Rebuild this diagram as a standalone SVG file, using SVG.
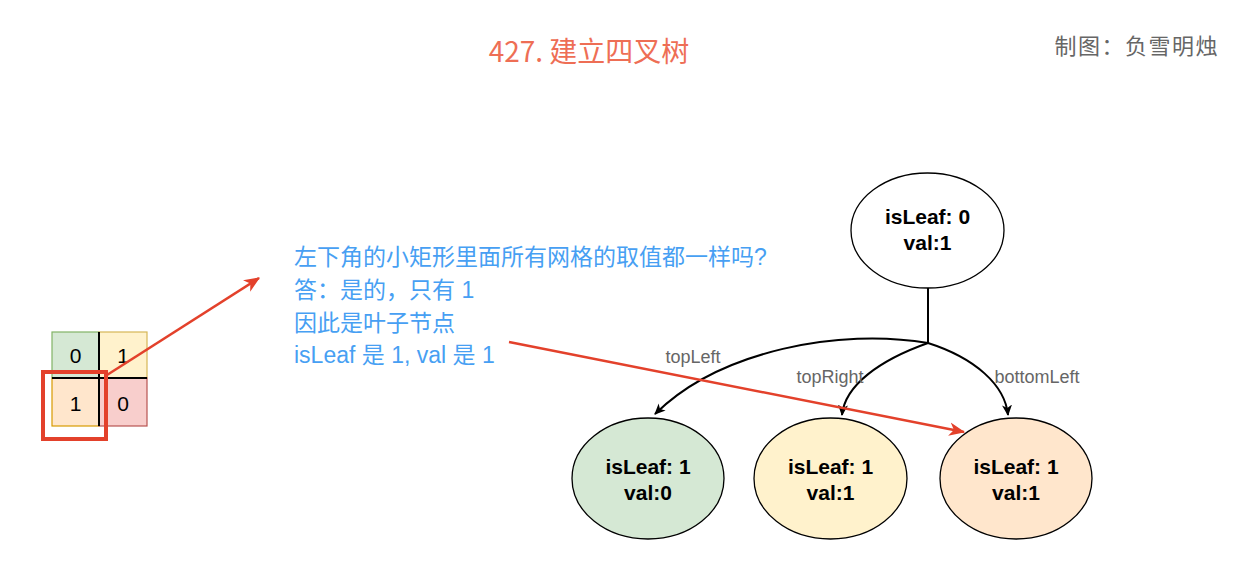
<svg xmlns="http://www.w3.org/2000/svg" width="1246" height="586" viewBox="0 0 1246 586">
<style>
.node text{font-family:"Liberation Sans",Arial,sans-serif;font-weight:bold;font-size:21px;fill:#000;text-anchor:middle}
.ell{stroke:#000;stroke-width:1.3}
.cell{stroke-width:1.2}
.celltxt{font-family:"Liberation Sans",Arial,sans-serif;font-size:21px;fill:#000;text-anchor:middle}
.lbl{font-family:"Liberation Sans",Arial,sans-serif;font-size:18px;fill:#666;text-anchor:middle}
.blue{font-family:"Liberation Sans","Noto Sans CJK SC",sans-serif;font-size:23px;fill:#479ff3}
.edge{fill:none;stroke:#000;stroke-width:2}
.red{fill:none;stroke:#e3412b;stroke-width:2.5}
</style>
<defs>
<marker id="ab" markerWidth="12" markerHeight="12" refX="10" refY="5" orient="auto" markerUnits="userSpaceOnUse" viewBox="0 0 12 10">
<path d="M0,0 L11,5 L0,10 L3,5 Z" fill="#000"/>
</marker>
<marker id="ar" markerWidth="16" markerHeight="14" refX="13" refY="6" orient="auto" markerUnits="userSpaceOnUse" viewBox="0 0 14 12">
<path d="M0,0 L14,6 L0,12 L4,6 Z" fill="#e3412b"/>
</marker>
</defs>
<rect width="1246" height="586" fill="#fff"/>
<text x="589" y="62" font-family="'Noto Sans CJK SC',sans-serif" font-size="28" fill="#ee6e55" text-anchor="middle">427. 建立四叉树</text>
<text x="1219" y="54" font-family="'Noto Sans CJK SC',sans-serif" font-size="22" fill="#666" text-anchor="end" letter-spacing="1.5">制图：负雪明烛</text>
<g id="grid">
<rect class="cell" x="52" y="332" width="47" height="46" fill="#d5e8d4" stroke="#82b366"/>
<rect class="cell" x="99" y="332" width="48" height="46" fill="#fff2cc" stroke="#d6b656"/>
<rect class="cell" x="52" y="378" width="47" height="48" fill="#ffe6cc" stroke="#d79b00"/>
<rect class="cell" x="99" y="378" width="48" height="48" fill="#f8cecc" stroke="#b85450"/>
<line x1="99" y1="332" x2="99" y2="426" stroke="#000" stroke-width="2"/>
<line x1="52" y1="378" x2="147" y2="378" stroke="#000" stroke-width="2"/>
<text class="celltxt" x="75.5" y="363">0</text>
<text class="celltxt" x="123" y="363">1</text>
<text class="celltxt" x="75.5" y="411">1</text>
<text class="celltxt" x="123" y="411">0</text>
<rect x="43" y="372" width="63" height="67" fill="none" stroke="#e3412b" stroke-width="4"/>
</g>
<g id="note">
<text class="blue" x="294" y="265">左下角的小矩形里面所有网格的取值都一样吗?</text>
<text class="blue" x="294" y="298">答：是的，只有 1</text>
<text class="blue" x="294" y="331">因此是叶子节点</text>
<text class="blue" x="294" y="363">isLeaf 是 1, val 是 1</text>
</g>
<g id="connectors">
<line class="edge" x1="928" y1="287" x2="928" y2="343"/>
<path class="edge" d="M928,343 C840,328 720,350 655,414" marker-end="url(#ab)"/>
<path class="edge" d="M928,343 C880,360 845,385 842,415" marker-end="url(#ab)"/>
<path class="edge" d="M928,343 C975,358 1005,385 1008,415" marker-end="url(#ab)"/>
<text class="lbl" x="693" y="363">topLeft</text>
<text class="lbl" x="830" y="383">topRight</text>
<text class="lbl" x="1037" y="383">bottomLeft</text>
<line class="red" x1="107" y1="375" x2="259" y2="278" marker-end="url(#ar)"/>
<line class="red" x1="509" y1="342" x2="964" y2="432" marker-end="url(#ar)"/>
</g>
<g id="root" class="node">
<ellipse class="ell" cx="927.5" cy="230.5" rx="76.5" ry="57.5" fill="#fff"/>
<text x="927.5" y="224">isLeaf: 0</text>
<text x="927.5" y="250">val:1</text>
</g>
<g id="topLeft" class="node">
<ellipse class="ell" cx="648" cy="478.5" rx="76" ry="60.5" fill="#d5e8d4"/>
<text x="648" y="474">isLeaf: 1</text>
<text x="648" y="500">val:0</text>
</g>
<g id="topRight" class="node">
<ellipse class="ell" cx="830.5" cy="478.5" rx="76.5" ry="60.5" fill="#fff2cc"/>
<text x="830.5" y="474">isLeaf: 1</text>
<text x="830.5" y="500">val:1</text>
</g>
<g id="bottomLeft" class="node">
<ellipse class="ell" cx="1016" cy="478.5" rx="76" ry="60.5" fill="#ffe6cc"/>
<text x="1016" y="474">isLeaf: 1</text>
<text x="1016" y="500">val:1</text>
</g>
</svg>
